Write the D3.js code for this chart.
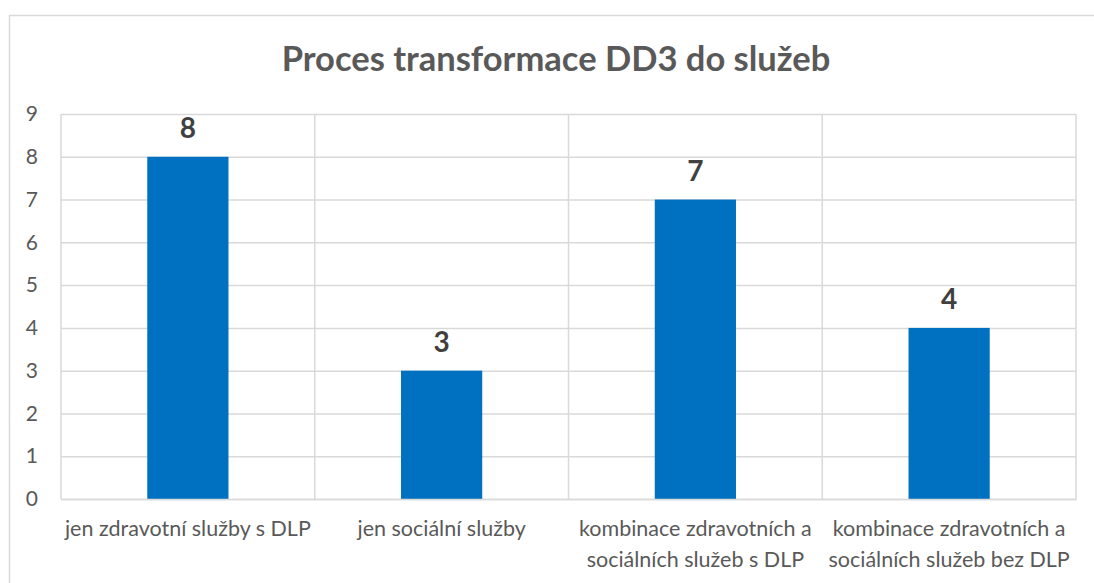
<!DOCTYPE html>
<html>
<head>
<meta charset="utf-8">
<script src="https://cdn.jsdelivr.net/npm/d3@7"></script>
<style>
  body { margin: 0; background: #fff; }
  svg { display: block; font-family: Lato, "Open Sans", sans-serif; }
</style>
</head>
<body>
<div id="chart"></div>
<script>
// data
var categories = [
  "jen zdravotní služby s DLP",
  "jen sociální služby",
  "kombinace zdravotních a sociálních služeb s DLP",
  "kombinace zdravotních a sociálních služeb bez DLP"
];
var values = [8, 3, 7, 4];
var yTicks = [0, 1, 2, 3, 4, 5, 6, 7, 8, 9];
var title = "Proces transformace DD3 do služeb";

const width = 1094;
const height = 583;
const margin = { top: 114, bottom: 84, left: 61, right: 18 };
const chartWidth = width - margin.left - margin.right;
const chartHeight = height - margin.top - margin.bottom;

const svg = d3.select('#chart')
  .append('svg')
  .attr('width', width)
  .attr('height', height);

// chart frame
svg.append('rect')
  .attr('x', 9.5)
  .attr('y', 15.5)
  .attr('width', 1200)
  .attr('height', 700)
  .attr('fill', '#fff')
  .attr('stroke', '#d9d9d9')
  .attr('stroke-width', 1.5);

svg.append('text')
  .attr('x', 556)
  .attr('y', 71)
  .attr('text-anchor', 'middle')
  .attr('fill', '#595959')
  .style('font-size', '34.5px')
  .style('font-weight', 'bold')
  .text(title);

const chart = svg.append('g')
  .attr('transform', `translate(${margin.left},${margin.top})`);

const xScale = d3.scaleBand()
  .domain(categories)
  .range([0, chartWidth])
  .padding(0);
const yScale = d3.scaleLinear()
  .domain([0, 9])
  .range([chartHeight, 0]);

// horizontal gridlines + y labels
const yAxis = d3.axisLeft(yScale)
  .tickValues(yTicks)
  .tickSize(-chartWidth)
  .tickPadding(23)
  .tickFormat(d3.format('d'));

chart.append('g')
  .classed('y axis', true)
  .call(yAxis)
  .call(g => g.select('.domain').remove())
  .call(g => g.selectAll('.tick line').attr('stroke', '#d9d9d9').attr('stroke-width', 1.5))
  .call(g => g.selectAll('.tick text')
    .attr('fill', '#595959')
    .style('font-size', '21px')
    .style('font-family', 'Lato, sans-serif'));

// vertical gridlines at category borders
const edges = categories.map(c => xScale(c)).concat([chartWidth]);
chart.selectAll('.vgrid')
  .data(edges)
  .enter()
  .append('line')
  .classed('vgrid', true)
  .attr('x1', d => d)
  .attr('x2', d => d)
  .attr('y1', 0)
  .attr('y2', chartHeight)
  .attr('stroke', '#d9d9d9')
  .attr('stroke-width', 1.5);

const barWidth = xScale.bandwidth() * 0.32;

chart.selectAll('.bar')
  .data(values)
  .enter()
  .append('rect')
  .classed('bar', true)
  .attr('x', (d, i) => xScale(categories[i]) + (xScale.bandwidth() - barWidth) / 2)
  .attr('y', d => yScale(d))
  .attr('width', barWidth)
  .attr('height', d => chartHeight - yScale(d))
  .attr('fill', '#0070c0');

chart.selectAll('.bar-label')
  .data(values)
  .enter()
  .append('text')
  .classed('bar-label', true)
  .attr('x', (d, i) => xScale(categories[i]) + xScale.bandwidth() / 2)
  .attr('y', d => yScale(d))
  .attr('dy', -19)
  .attr('text-anchor', 'middle')
  .attr('fill', '#404040')
  .style('font-size', '28px')
  .style('font-weight', 'bold')
  .text(d => d);

// category labels, wrapped to band width
const xAxis = d3.axisBottom(xScale).tickSize(0).tickPadding(0);
chart.append('g')
  .classed('x axis', true)
  .attr('transform', `translate(0,${chartHeight})`)
  .call(xAxis)
  .call(g => g.select('.domain').attr('stroke', '#d9d9d9').attr('stroke-width', 1.5))
  .call(g => g.selectAll('.tick text')
    .attr('dy', null)
    .attr('fill', '#595959')
    .style('font-size', '21.5px')
    .style('font-family', 'Lato, sans-serif')
    .each(function () { wrap(d3.select(this), xScale.bandwidth()); }));

function wrap(text, maxWidth) {
  const words = text.text().split(' ');
  text.text(null);
  let line = [];
  let lineNo = 0;
  let tspan = text.append('tspan').attr('x', 0).attr('y', 37);
  words.forEach(w => {
    line.push(w);
    tspan.text(line.join(' '));
    if (tspan.node().getComputedTextLength() > maxWidth && line.length > 1) {
      line.pop();
      tspan.text(line.join(' '));
      line = [w];
      lineNo++;
      tspan = text.append('tspan').attr('x', 0).attr('y', 37 + lineNo * 31).text(w);
    }
  });
}
</script>
</body>
</html>
